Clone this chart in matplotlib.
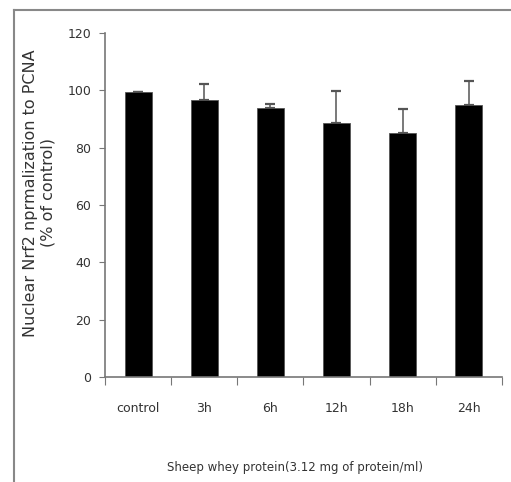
import matplotlib.pyplot as plt
from matplotlib.lines import Line2D

# datos
categories = ["control", "3h", "6h", "12h", "18h", "24h"]
values = [99.5, 96.6, 93.8, 88.5, 85.0, 94.8]
errors = [0.0, 5.5, 1.4, 11.4, 8.5, 8.5]
y_ticks = [0, 20, 40, 60, 80, 100, 120]

fig = plt.figure(figsize=(5.11, 4.82), dpi=100)
ax = fig.add_axes([0.2055, 0.218, 0.7765, 0.7135])

x = list(range(len(categories)))
ax.bar(x, values, width=0.41, color="black", edgecolor="#555555", linewidth=0.6, zorder=2)
ax.errorbar(x, values, yerr=[[0] * len(errors), errors], fmt="none",
            ecolor="#555555", elinewidth=1.1, capsize=3.5, capthick=1.6, zorder=1)

ax.set_xlim(-0.5, len(categories) - 0.5)
ax.set_ylim(0, 120)
ax.set_yticks(y_ticks)
ax.set_yticklabels([str(t) for t in y_ticks], fontsize=9, color="#333333")

# ticks del eje x entre categorias
ax.set_xticks([i - 0.5 for i in range(len(categories) + 1)])
ax.set_xticklabels([])
ax.set_xticks(x, minor=True)
ax.set_xticklabels(categories, minor=True, fontsize=9, color="#333333")
ax.tick_params(axis="x", which="minor", length=0, pad=18)
ax.tick_params(axis="x", which="major", length=6, direction="out", color="#777777")
ax.tick_params(axis="y", length=4, direction="out", color="#777777", pad=6)

for s in ["top", "right"]:
    ax.spines[s].set_visible(False)
for s in ["left", "bottom"]:
    ax.spines[s].set_color("#777777")
    ax.spines[s].set_linewidth(1.2)

ax.set_ylabel("Nuclear Nrf2 nprmalization to PCNA\n(% of control)", fontsize=11.5,
              color="#333333", linespacing=1.2)
ax.yaxis.set_label_coords(-0.125, 0.535)
fig.text(295 / 511, 1 - 467 / 482, "Sheep whey protein(3.12 mg of protein/ml)", ha="center",
         va="center", fontsize=8.5, color="#333333")

# marco exterior
fig.add_artist(Line2D([14 / 511, 1.0], [1 - 10 / 482, 1 - 10 / 482], color="#888888", lw=1.5,
                      transform=fig.transFigure))
fig.add_artist(Line2D([14 / 511, 14 / 511], [0.0, 1 - 10 / 482], color="#888888", lw=1.5,
                      transform=fig.transFigure))

fig.savefig("out.png", dpi=100)
